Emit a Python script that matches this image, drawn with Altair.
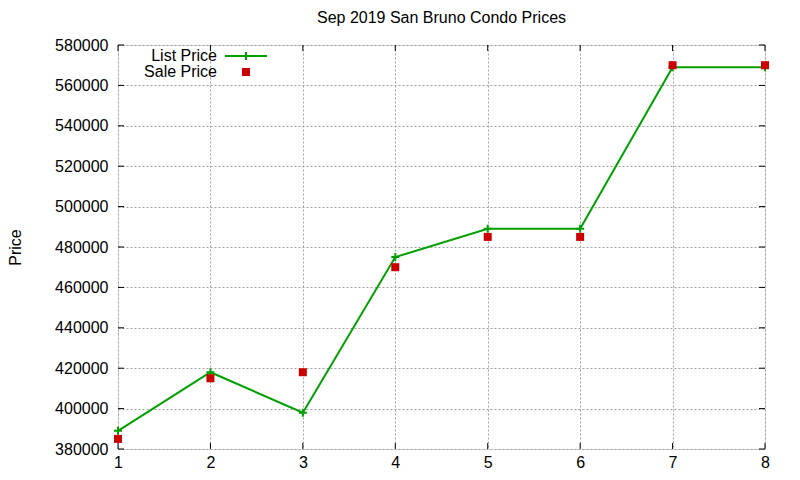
import altair as alt
import pandas as pd

idx = [1, 2, 3, 4, 5, 6, 7, 8]
list_price = [389000, 418000, 398000, 475000, 489000, 489000, 569000, 569000]
sale_price = [385000, 415000, 418000, 470000, 485000, 485000, 570000, 570000]
y_ticks = [380000, 400000, 420000, 440000, 460000, 480000, 500000, 520000, 540000, 560000, 580000]
x_ticks = idx

W, H = 647, 404
FONT = "Liberation Sans"
FS = 16
GREEN = "#00a000"
RED = "#cc0000"
GRID = "#a0a0a0"

df = pd.DataFrame({"idx": idx, "list": list_price, "sale": sale_price})
yt = pd.DataFrame({"v": y_ticks})
xt = pd.DataFrame({"v": x_ticks})

xs = alt.Scale(domain=[1, 8], nice=False)
ys = alt.Scale(domain=[380000, 580000], nice=False, zero=False)

x_axis = alt.Axis(values=x_ticks, format="d", title=None, grid=True, tickSize=0,
                  labelPadding=5, domain=False, labelFontSize=FS, labelFont=FONT,
                  labelColor="black", gridDash=[2, 2], gridColor=GRID, labelFlush=False)
y_axis = alt.Axis(values=y_ticks, format="d", title="Price", grid=True, tickSize=0,
                  labelPadding=10, domain=False, labelFontSize=FS, labelFont=FONT,
                  labelColor="black", gridDash=[2, 2], gridColor=GRID,
                  titleFont=FONT, titleFontSize=FS, titleFontWeight="normal",
                  titleX=-103, titleY=H / 2, titleAngle=-90, titleBaseline="middle",
                  titleAlign="center", labelFlush=False)

base = alt.Chart(df)

line = base.mark_line(color=GREEN, strokeWidth=2).encode(
    x=alt.X("idx:Q", scale=xs, axis=x_axis),
    y=alt.Y("list:Q", scale=ys, axis=y_axis),
)
cross = base.mark_point(shape="M-1,0L1,0M0,-1L0,1", size=64, filled=False,
                        color=GREEN, strokeWidth=2, opacity=1).encode(
    x=alt.X("idx:Q", scale=xs), y=alt.Y("list:Q", scale=ys))
sq = base.mark_square(size=64, color=RED, opacity=1).encode(
    x=alt.X("idx:Q", scale=xs), y=alt.Y("sale:Q", scale=ys))

tl = alt.Chart(yt).mark_rule(color="black", strokeWidth=1).encode(
    y=alt.Y("v:Q", scale=ys), x=alt.value(0), x2=alt.value(6))
tr = alt.Chart(yt).mark_rule(color="black", strokeWidth=1).encode(
    y=alt.Y("v:Q", scale=ys), x=alt.value(W - 6), x2=alt.value(W))
tb = alt.Chart(xt).mark_rule(color="black", strokeWidth=1).encode(
    x=alt.X("v:Q", scale=xs), y=alt.value(H - 6), y2=alt.value(H))
tt = alt.Chart(xt).mark_rule(color="black", strokeWidth=1).encode(
    x=alt.X("v:Q", scale=xs), y=alt.value(0), y2=alt.value(6))

leg = pd.DataFrame({"a": [0]})
leg_t1 = alt.Chart(leg).mark_text(text="List Price", align="right", baseline="middle",
                                  font=FONT, fontSize=FS, color="black").encode(
    x=alt.value(99), y=alt.value(11))
leg_t2 = alt.Chart(leg).mark_text(text="Sale Price", align="right", baseline="middle",
                                  font=FONT, fontSize=FS, color="black").encode(
    x=alt.value(99), y=alt.value(27))
leg_l = alt.Chart(leg).mark_rule(color=GREEN, strokeWidth=2).encode(
    x=alt.value(107), x2=alt.value(149), y=alt.value(11))
leg_c = alt.Chart(leg).mark_point(shape="M-1,0L1,0M0,-1L0,1", size=64, filled=False,
                                  color=GREEN, strokeWidth=2, opacity=1).encode(
    x=alt.value(128), y=alt.value(11))
leg_s = alt.Chart(leg).mark_square(size=64, color=RED, opacity=1).encode(
    x=alt.value(128), y=alt.value(27))

chart = alt.layer(line, tl, tr, tb, tt, cross, sq, leg_t1, leg_t2, leg_l, leg_c, leg_s).properties(
    width=W, height=H,
    title=alt.TitleParams("Sep 2019 San Bruno Condo Prices", font=FONT, fontSize=FS,
                          fontWeight="normal", color="black", anchor="middle", offset=11),
    autosize=alt.AutoSizeParams(type="none"),
    padding={"left": 110, "top": 37, "right": 27, "bottom": 24},
).configure_view(stroke="black", strokeWidth=1).configure(background="white")

chart.save("out.html", embed_options={"renderer": "svg", "actions": False})
